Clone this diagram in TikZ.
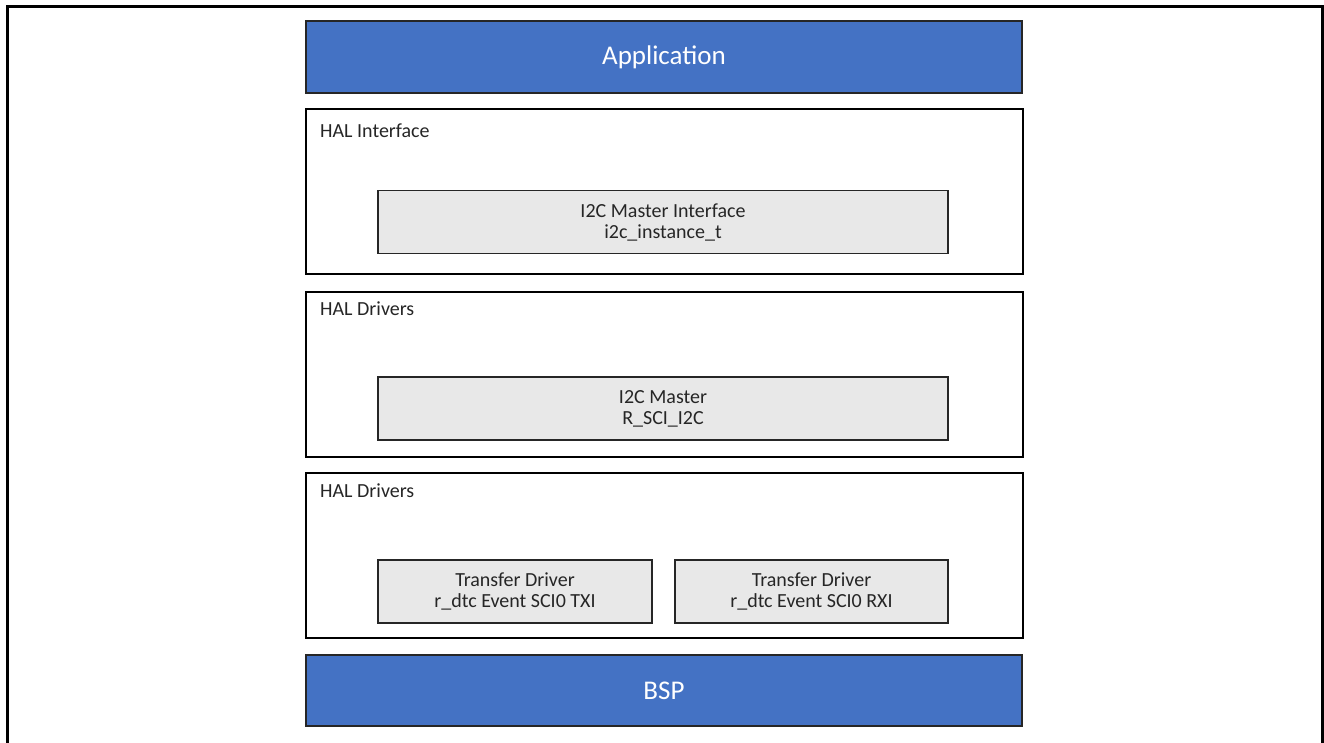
\documentclass[tikz,border=0pt]{standalone}
\usepackage{fontspec}
\setmainfont{Carlito}
\usepackage{tikz}
\usetikzlibrary{positioning}
\definecolor{appblue}{HTML}{4472C4}
\definecolor{modgrey}{HTML}{E8E8E8}

\begin{document}
\begin{tikzpicture}[x=1pt,y=-1pt,
  layer/.style={draw=black,line width=1.5pt,fill=white,minimum width=717pt,minimum height=165pt},
  bluebar/.style={draw=black!85,line width=1.5pt,fill=appblue,text=white,minimum width=716pt,
             minimum height=72pt,font=\fontsize{27}{32}\selectfont},
  module/.style={draw=black!85,line width=1.2pt,fill=modgrey,minimum height=63pt,align=center,
             text=black!85,inner sep=0pt,font=\fontsize{20}{21}\selectfont},
  tag/.style={anchor=west,text=black!85,inner sep=0pt,font=\fontsize{20}{24}\selectfont}]
\useasboundingbox (0,0) rectangle (1324,743);
\fill[white] (0,0) rectangle (1324,743);
\draw[line width=3pt] (7,750) |- (1322,7) -- (1322,750);
\node[bluebar] (app) at (664,57) {Application};
\node[layer] (hif) at (664.5,191.5) {};
\node[tag] (hiflbl) at (320,131) {HAL Interface};
\node[module,minimum width=570pt] (i2cif) at (663,222) {I2C Master Interface\\i2c\_instance\_t};
\node[layer] (hdrv) at (664.5,374.5) {};
\node[tag] (hdrvlbl) at (320,309) {HAL Drivers};
\node[module,minimum width=570pt] (i2cm) at (663,408.5) {I2C Master\\R\_SCI\_I2C};
\node[layer] (xdrv) at (664.5,555.5) {};
\node[tag] (xdrvlbl) at (320,491) {HAL Drivers};
\node[module,minimum width=274pt] (dtctx) at (515,591.5) {Transfer Driver\\r\_dtc Event SCI0 TXI};
\node[module,minimum width=273pt] (dtcrx) at (811.5,591.5) {Transfer Driver\\r\_dtc Event SCI0 RXI};
\node[bluebar,minimum height=71pt] (bsp) at (664,690.5) {BSP};
\end{tikzpicture}
\end{document}
